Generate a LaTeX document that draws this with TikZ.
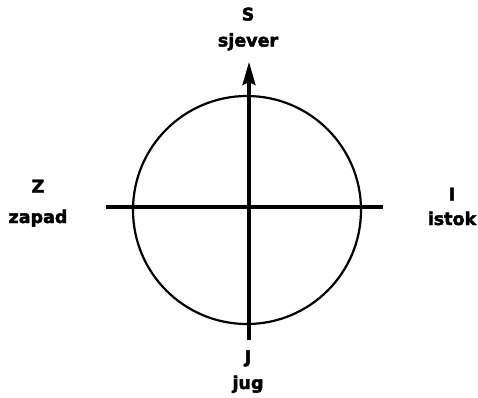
\documentclass[tikz,border=0pt]{standalone}
\usepackage{fontspec}
\setmainfont{DejaVu Sans}
\newfontfamily\heavyfont{DejaVu Sans Bold}[FakeBold=2.5]
\usetikzlibrary{arrows.meta}
\begin{document}
\begin{tikzpicture}[x=1pt,y=-1pt,
  lbl/.style={inner sep=0pt,anchor=base,font=\heavyfont\fontsize{17.5}{21}\selectfont},
  axis/.style={line width=3.2pt},
  ring/.style={draw,circle,line width=2.2pt,minimum size=228pt,inner sep=0pt}]
\useasboundingbox (0,0) rectangle (478,397);
\node[ring] (c) at (247,210) {};
\coordinate (w) at (106,207);
\coordinate (e) at (383,207);
\coordinate (s) at (249,340);
\coordinate (n) at (249,62);
\draw[axis] (w) -- (e);
\draw[axis,-{Stealth[length=23pt,width=13pt,inset=3pt]}] (s) -- (n);
\node[lbl] (S) at (248,20.5) {S};
\node[lbl] (sj) at (248,46.5) {sjever};
\node[lbl] (Z) at (38,192.5) {Z};
\node[lbl] (za) at (38,223) {zapad};
\node[lbl] (I) at (452,200.5) {I};
\node[lbl] (is) at (452,225) {istok};
\node[lbl] (J) at (248,363) {J};
\node[lbl] (ju) at (248,389) {jug};
\end{tikzpicture}
\end{document}
